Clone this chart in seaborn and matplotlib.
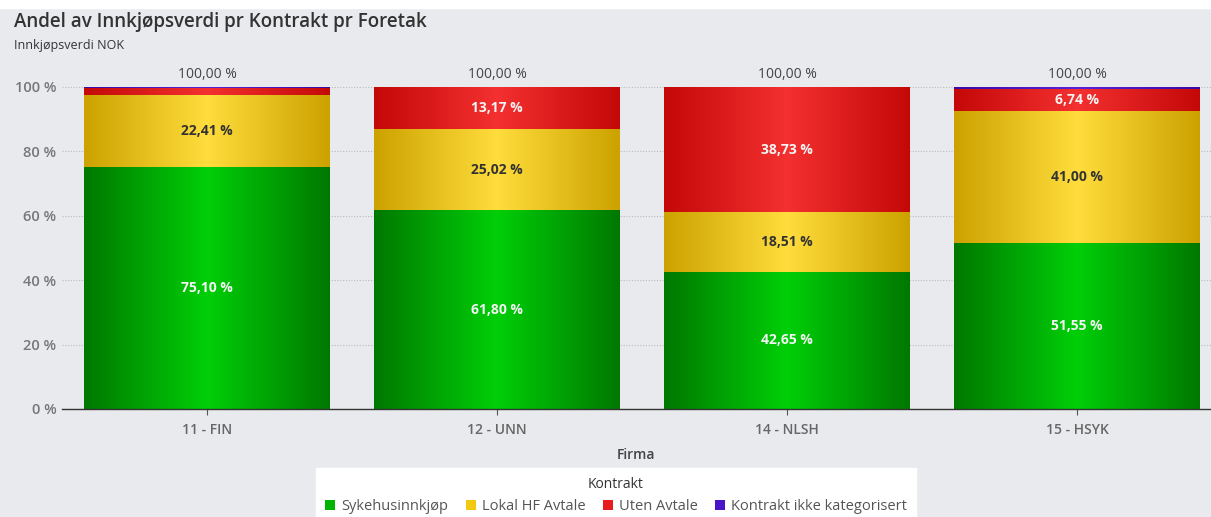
import numpy as np
import pandas as pd
import matplotlib
matplotlib.use("Agg")
import matplotlib.pyplot as plt
from matplotlib.patches import Patch
from matplotlib.colors import LinearSegmentedColormap
import seaborn as sns

# ---- data ----
firms = ["11 - FIN", "12 - UNN", "14 - NLSH", "15 - HSYK"]
categories = ["Sykehusinnkjøp", "Lokal HF Avtale", "Uten Avtale", "Kontrakt ikke kategorisert"]
sykehus = [75.10, 61.80, 42.65, 51.55]
lokal = [22.41, 25.02, 18.51, 41.00]
uten = [2.19, 13.17, 38.73, 6.74]
ikke_kat = [0.30, 0.01, 0.11, 0.71]
totals_label = ["100,00 %", "100,00 %", "100,00 %", "100,00 %"]

series = [sykehus, lokal, uten, ikke_kat]
colors = ["#00b400", "#f2c811", "#e81c1c", "#4a14c8"]
edge_dark = ["#007800", "#cca200", "#c40808", "#3a0aa8"]
center_light = ["#00cf08", "#ffdd3c", "#f43030", "#5a22d8"]
label_colors = ["#f4f4f4", "#333333", "#f4f4f4", "white"]

sns.set_theme(style="white")
plt.rcParams["font.family"] = ["Open Sans", "DejaVu Sans"]

BG = "#e8eaed"
fig = plt.figure(figsize=(12.11, 5.17), dpi=100, facecolor=BG)
ax = fig.add_axes([62 / 1211, 1 - 409 / 517, 1 - 62 / 1211, (409 - 87) / 517])
ax.set_facecolor(BG)

df_rows = []
for cat, vals in zip(categories, series):
    for f, v in zip(firms, vals):
        df_rows.append({"Firma": f, "Kontrakt": cat, "Andel": v})
df = pd.DataFrame(df_rows)

bottom = np.zeros(len(firms))
seg_info = []
for i, cat in enumerate(categories):
    sub = df[df["Kontrakt"] == cat]
    n_before = len(ax.patches)
    sns.barplot(data=sub, x="Firma", y="Andel", order=firms, color=colors[i],
                width=0.848, bottom=bottom, ax=ax, errorbar=None,
                saturation=1, linewidth=0, zorder=2)
    new_patches = ax.patches[n_before:]
    for j, p in enumerate(new_patches):
        seg_info.append((p, i, sub["Andel"].values[j], bottom[j]))
    bottom = bottom + sub["Andel"].values

# gradient overlay on each bar segment
for p, i, val, b in seg_info:
    cmap = LinearSegmentedColormap.from_list(
        "g", [edge_dark[i], center_light[i], edge_dark[i]])
    grad = np.linspace(0, 1, 256).reshape(1, -1)
    x0 = p.get_x()
    w = p.get_width()
    y0 = p.get_y()
    h = p.get_height()
    im = ax.imshow(grad, cmap=cmap, aspect="auto", extent=(x0, x0 + w, y0, y0 + h),
                   zorder=2.5, interpolation="bicubic")
    im.set_clip_path(p)
    if val >= 5:
        ax.text(x0 + w / 2, b + val / 2, f"{val:.2f} %".replace(".", ","),
                ha="center", va="center", fontsize=10, fontweight="bold",
                color=label_colors[i], zorder=4)

# total labels
for k, f in enumerate(firms):
    ax.text(k, bottom[k] + 1.5, totals_label[k], ha="center", va="bottom",
            fontsize=10, color="#444444", zorder=4, clip_on=False)

ax.set_xlim(-0.5, 3.462)
ax.set_ylim(0, 100)
ax.set_yticks([0, 20, 40, 60, 80, 100])
ax.set_yticklabels([f"{t} %" for t in [0, 20, 40, 60, 80, 100]])
ax.yaxis.grid(True, linestyle=(0, (1, 1.5)), color="#bbbbbb", linewidth=0.8, zorder=0)
ax.set_axisbelow(True)
for s in ["top", "right", "left"]:
    ax.spines[s].set_visible(False)
ax.spines["bottom"].set_color("#333333")
ax.spines["bottom"].set_linewidth(1.0)
ax.spines["bottom"].set_zorder(5)
ax.tick_params(axis="y", length=0, pad=4, labelsize=10.5, labelcolor="#777777")
ax.tick_params(axis="x", length=4, width=0.8, color="#555555", pad=6,
               labelsize=10, labelcolor="#666666", bottom=True)
for lab in ax.get_xticklabels() + ax.get_yticklabels():
    lab.set_fontweight("semibold")
ax.set_xlabel("Firma", fontsize=10, color="#444444", labelpad=8, fontweight="semibold")
ax.set_ylabel("")

fig.text(14 / 1211, 1 - 22 / 517, "Andel av Innkjøpsverdi pr Kontrakt pr Foretak",
         fontsize=13.5, color="#333333", ha="left", va="center", fontweight="semibold")
fig.text(14 / 1211, 1 - 46 / 517, "Innkjøpsverdi NOK", fontsize=9,
         color="#333333", ha="left", va="center")

# white strip at top
fig.patches.append(plt.Rectangle((0, 1 - 8 / 517), 1, 8 / 517,
                                 transform=fig.transFigure, color="white", zorder=0))

handles = [Patch(facecolor=c, edgecolor="none") for c in colors]
leg = fig.legend(handles, categories, title="Kontrakt", loc="lower center",
                 bbox_to_anchor=(616 / 1211, -0.025), ncol=4, frameon=True,
                 fontsize=10.5, title_fontsize=10, handlelength=0.7, handleheight=0.7,
                 handletextpad=0.4, columnspacing=1.2, borderpad=0.6,
                 fancybox=False, labelcolor="#555555", framealpha=1)
leg.get_frame().set_facecolor("white")
leg.get_frame().set_edgecolor("white")
leg.get_title().set_color("#333333")

fig.savefig("out.png", dpi=100, facecolor=BG)
